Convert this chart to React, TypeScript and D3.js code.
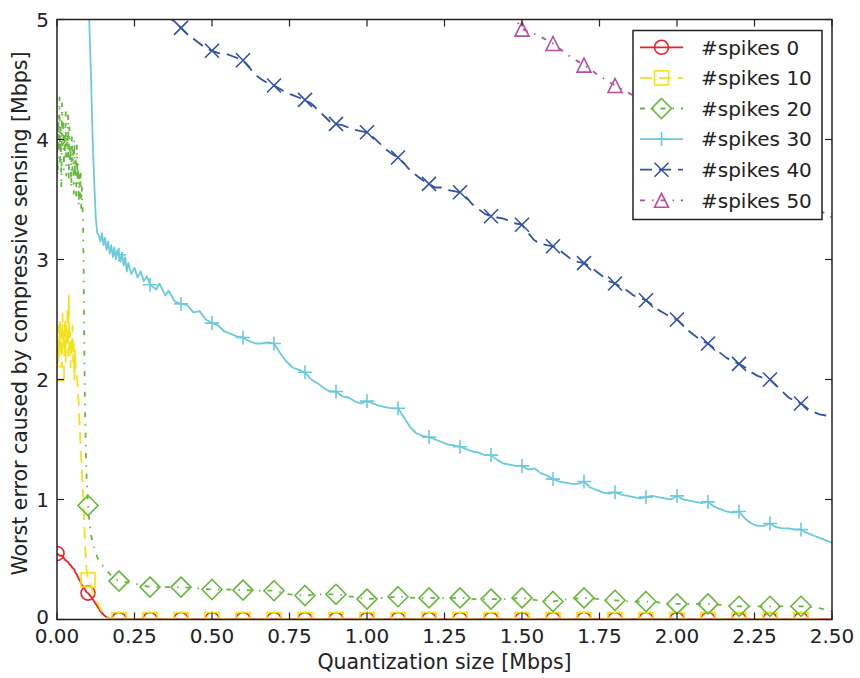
import React from "react";
import * as d3 from "d3";

// ---------- data ----------
const xTickValues = [0, 0.25, 0.5, 0.75, 1.0, 1.25, 1.5, 1.75, 2.0, 2.25, 2.5];
const yTickValues = [0, 1, 2, 3, 4, 5];
const seriesLabels = ["#spikes 0", "#spikes 10", "#spikes 20", "#spikes 30", "#spikes 40", "#spikes 50"];

const zeroTailX = [0.2, 0.3, 0.4, 0.5, 0.6, 0.7, 0.8, 0.9, 1.0, 1.1, 1.2, 1.3, 1.4, 1.5, 1.6, 1.7, 1.8, 1.9, 2.0, 2.1, 2.2, 2.3, 2.4, 2.5];

const spikes0X = [0, 0.005, 0.01, 0.015, 0.02, 0.025, 0.03, 0.035, 0.04, 0.045, 0.05, 0.055, 0.06, 0.065, 0.07, 0.075, 0.08, 0.085, 0.09, 0.095, 0.1, 0.11, 0.12, 0.13, 0.14, 0.15, 0.16, 0.17, 0.18, ...zeroTailX];
const spikes0Y = [0.55, 0.54, 0.53, 0.535, 0.52, 0.5, 0.49, 0.48, 0.46, 0.45, 0.43, 0.42, 0.39, 0.37, 0.34, 0.32, 0.29, 0.27, 0.25, 0.23, 0.22, 0.19, 0.15, 0.11, 0.07, 0.04, 0.02, 0.005, 0, ...zeroTailX.map(() => 0)];

const spikes10X = [0, 0.002, 0.004, 0.006, 0.008, 0.01, 0.012, 0.014, 0.016, 0.018, 0.02, 0.022, 0.024, 0.026, 0.028, 0.03, 0.032, 0.034, 0.036, 0.038, 0.04, 0.042, 0.044, 0.046, 0.048, 0.05, 0.052, 0.054, 0.056, 0.058, 0.06, 0.065, 0.07, 0.075, 0.08, 0.085, 0.09, 0.095, 0.1, 0.11, 0.12, 0.13, 0.14, 0.15, 0.16, 0.17, ...zeroTailX];
const spikes10Y = [2.05, 2.3, 2.15, 2.45, 2.2, 2.5, 2.25, 2.4, 2.1, 2.55, 2.3, 2.35, 2.2, 2.5, 2.15, 2.45, 2.3, 2.6, 2.2, 2.7, 2.25, 2.4, 2.1, 2.35, 2.2, 2.45, 2.15, 2.3, 2.0, 2.25, 2.1, 2.0, 1.8, 1.5, 1.25, 1.0, 0.65, 0.42, 0.33, 0.28, 0.2, 0.14, 0.09, 0.05, 0.02, 0, ...zeroTailX.map(() => 0)];

const spikes20X = [0, 0.002, 0.004, 0.006, 0.008, 0.01, 0.012, 0.014, 0.016, 0.018, 0.02, 0.022, 0.024, 0.026, 0.028, 0.03, 0.032, 0.034, 0.036, 0.038, 0.04, 0.042, 0.044, 0.046, 0.048, 0.05, 0.052, 0.054, 0.056, 0.058, 0.06, 0.062, 0.064, 0.066, 0.068, 0.07, 0.072, 0.074, 0.076, 0.078, 0.08, 0.082, 0.084, 0.086, 0.088, 0.09, 0.093, 0.096, 0.1, 0.105, 0.11, 0.12, 0.13, 0.14, 0.15, 0.16, 0.17, 0.18, 0.2, 0.25, 0.3, 0.35, 0.4, 0.45, 0.5, 0.55, 0.6, 0.65, 0.7, 0.75, 0.8, 0.85, 0.9, 0.95, 1.0, 1.05, 1.1, 1.15, 1.2, 1.25, 1.3, 1.35, 1.4, 1.45, 1.5, 1.55, 1.6, 1.65, 1.7, 1.75, 1.8, 1.85, 1.9, 1.95, 2.0, 2.05, 2.1, 2.15, 2.2, 2.25, 2.3, 2.35, 2.4, 2.45, 2.5];
const spikes20Y = [4.0, 3.7, 4.2, 3.9, 4.35, 3.8, 4.1, 3.6, 4.3, 3.95, 4.15, 3.75, 4.05, 3.85, 4.25, 3.7, 4.0, 3.9, 4.2, 3.65, 4.1, 3.8, 3.95, 3.6, 4.05, 3.75, 3.9, 3.55, 4.0, 3.7, 3.85, 3.5, 3.95, 3.65, 3.8, 3.45, 3.7, 3.5, 3.75, 3.4, 3.6, 3.45, 3.3, 2.9, 2.3, 1.8, 1.4, 1.15, 0.95, 0.8, 0.7, 0.6, 0.52, 0.47, 0.44, 0.41, 0.38, 0.35, 0.32, 0.3, 0.27, 0.27, 0.27, 0.26, 0.25, 0.25, 0.245, 0.24, 0.24, 0.21, 0.2, 0.21, 0.21, 0.19, 0.17, 0.18, 0.19, 0.18, 0.18, 0.18, 0.18, 0.17, 0.17, 0.17, 0.18, 0.16, 0.15, 0.17, 0.18, 0.17, 0.16, 0.15, 0.15, 0.14, 0.13, 0.13, 0.13, 0.12, 0.11, 0.11, 0.11, 0.11, 0.11, 0.1, 0.07];

const spikes30X = [0.1, 0.105, 0.11, 0.115, 0.12, 0.125, 0.13, 0.135, 0.14, 0.145, 0.15, 0.155, 0.16, 0.165, 0.17, 0.175, 0.18, 0.185, 0.19, 0.195, 0.2, 0.205, 0.21, 0.215, 0.22, 0.225, 0.23, 0.235, 0.24, 0.25, 0.26, 0.27, 0.28, 0.29, 0.3, 0.32, 0.33, 0.35, 0.36, 0.38, 0.4, 0.42, 0.44, 0.46, 0.48, 0.5, 0.52, 0.54, 0.56, 0.58, 0.6, 0.62, 0.64, 0.66, 0.68, 0.7, 0.72, 0.74, 0.76, 0.78, 0.8, 0.82, 0.84, 0.86, 0.88, 0.9, 0.92, 0.94, 0.96, 0.98, 1.0, 1.02, 1.04, 1.06, 1.08, 1.1, 1.12, 1.14, 1.16, 1.18, 1.2, 1.22, 1.24, 1.26, 1.28, 1.3, 1.32, 1.34, 1.36, 1.38, 1.4, 1.42, 1.44, 1.46, 1.48, 1.5, 1.52, 1.54, 1.56, 1.58, 1.6, 1.62, 1.64, 1.66, 1.68, 1.7, 1.72, 1.74, 1.76, 1.78, 1.8, 1.82, 1.84, 1.86, 1.88, 1.9, 1.92, 1.94, 1.96, 1.98, 2.0, 2.02, 2.04, 2.06, 2.08, 2.1, 2.12, 2.14, 2.16, 2.18, 2.2, 2.22, 2.24, 2.26, 2.28, 2.3, 2.32, 2.34, 2.36, 2.38, 2.4, 2.42, 2.44, 2.46, 2.48, 2.5];
const spikes30Y = [5.4, 4.9, 4.5, 4.0, 3.65, 3.35, 3.22, 3.2, 3.15, 3.22, 3.12, 3.18, 3.08, 3.15, 3.05, 3.12, 3.02, 3.1, 3.0, 3.08, 3.04, 2.98, 3.06, 2.95, 3.02, 2.9, 2.97, 2.92, 2.88, 2.93, 2.85, 2.9, 2.82, 2.86, 2.79, 2.75, 2.8, 2.7, 2.74, 2.65, 2.63, 2.62, 2.56, 2.57, 2.5, 2.47, 2.45, 2.4, 2.38, 2.36, 2.35, 2.32, 2.3, 2.3, 2.31, 2.3, 2.22, 2.15, 2.1, 2.08, 2.06, 2.0, 1.97, 1.93, 1.9, 1.9, 1.86, 1.85, 1.82, 1.8, 1.82, 1.8, 1.78, 1.77, 1.76, 1.76, 1.68, 1.6, 1.55, 1.53, 1.52, 1.5, 1.48, 1.46, 1.45, 1.44, 1.42, 1.4, 1.39, 1.37, 1.37, 1.33, 1.3, 1.29, 1.28, 1.28, 1.25, 1.26, 1.22, 1.2, 1.17, 1.15, 1.14, 1.13, 1.13, 1.15, 1.1, 1.08, 1.06, 1.05, 1.06, 1.04, 1.03, 1.02, 1.01, 1.02, 1.03, 1.02, 1.01, 1.0, 1.03, 1.0, 0.99, 0.98, 0.97, 0.98, 0.94, 0.92, 0.9, 0.89, 0.9, 0.84, 0.8, 0.78, 0.78, 0.8, 0.77, 0.76, 0.76, 0.75, 0.75, 0.72, 0.7, 0.68, 0.66, 0.64];

const spikes40X = [0.3, 0.36, 0.38, 0.4, 0.42, 0.44, 0.46, 0.48, 0.5, 0.52, 0.54, 0.56, 0.58, 0.6, 0.62, 0.64, 0.66, 0.68, 0.7, 0.72, 0.74, 0.76, 0.78, 0.8, 0.82, 0.84, 0.86, 0.88, 0.9, 0.92, 0.94, 0.96, 0.98, 1.0, 1.02, 1.04, 1.06, 1.08, 1.1, 1.12, 1.14, 1.16, 1.18, 1.2, 1.22, 1.24, 1.26, 1.28, 1.3, 1.32, 1.34, 1.36, 1.38, 1.4, 1.42, 1.44, 1.46, 1.48, 1.5, 1.52, 1.54, 1.56, 1.58, 1.6, 1.62, 1.64, 1.66, 1.68, 1.7, 1.72, 1.74, 1.76, 1.78, 1.8, 1.82, 1.84, 1.86, 1.88, 1.9, 1.92, 1.94, 1.96, 1.98, 2.0, 2.02, 2.04, 2.06, 2.08, 2.1, 2.12, 2.14, 2.16, 2.18, 2.2, 2.22, 2.24, 2.26, 2.28, 2.3, 2.32, 2.34, 2.36, 2.38, 2.4, 2.42, 2.44, 2.46, 2.48, 2.5];
const spikes40Y = [5.15, 5.02, 4.98, 4.93, 4.88, 4.84, 4.8, 4.76, 4.74, 4.72, 4.72, 4.7, 4.68, 4.66, 4.6, 4.54, 4.5, 4.47, 4.45, 4.42, 4.39, 4.37, 4.35, 4.33, 4.3, 4.25, 4.2, 4.15, 4.13, 4.12, 4.1, 4.08, 4.07, 4.06, 4.02, 3.97, 3.92, 3.88, 3.85, 3.8, 3.74, 3.7, 3.66, 3.63, 3.6, 3.6, 3.58, 3.57, 3.56, 3.52, 3.46, 3.42, 3.38, 3.36, 3.35, 3.34, 3.32, 3.3, 3.29, 3.22, 3.16, 3.13, 3.12, 3.11, 3.08, 3.04, 3.0, 2.98, 2.97, 2.94, 2.9, 2.86, 2.82, 2.8, 2.77, 2.74, 2.7, 2.68, 2.66, 2.62, 2.58, 2.55, 2.52, 2.5, 2.45, 2.4, 2.36, 2.32, 2.3, 2.26, 2.22, 2.18, 2.15, 2.13, 2.1, 2.06, 2.03, 2.01, 2.0, 1.95, 1.9, 1.85, 1.82, 1.8, 1.76, 1.73, 1.71, 1.7, 1.68];

const spikes50X = [1.4, 1.48, 1.5, 1.55, 1.6, 1.65, 1.7, 1.75, 1.8, 1.85, 1.9, 2.0, 2.1, 2.2, 2.3, 2.4, 2.5];
const spikes50Y = [5.12, 5.0, 4.92, 4.87, 4.8, 4.7, 4.62, 4.53, 4.45, 4.38, 4.3, 4.15, 4.0, 3.85, 3.68, 3.5, 3.35];

const seriesColors = ["#ec2027", "#f2e21a", "#68b840", "#6ccbdb", "#3353a6", "#b94ea1"];
const seriesDash = ["none", "12,7", "5,7,1.5,7", "none", "12,7", "5,7,1.5,7"];
const seriesMarker = ["circle", "square", "diamond", "plus", "x", "triangle"];

// ---------- layout ----------
const W = 860;
const H = 678;
const left = 57;
const right = 832;
const top = 19.5;
const bottom = 619.5;
const FONT = "DejaVu Sans, sans-serif";
const TEXT = "#222";

function Marker({ type, cx, cy, color }: { type: string; cx: number; cy: number; color: string }) {
  const sw = 1.6;
  const common = { fill: "none", stroke: color, strokeWidth: sw };
  if (type === "circle") return <circle cx={cx} cy={cy} r={7} {...common} />;
  if (type === "square") return <rect x={cx - 7} y={cy - 7} width={14} height={14} {...common} />;
  if (type === "diamond")
    return <path d={`M${cx},${cy - 10}L${cx + 10},${cy}L${cx},${cy + 10}L${cx - 10},${cy}Z`} {...common} />;
  if (type === "plus") return <path d={`M${cx - 7},${cy}H${cx + 7}M${cx},${cy - 7}V${cy + 7}`} {...common} />;
  if (type === "x")
    return <path d={`M${cx - 7},${cy - 7}L${cx + 7},${cy + 7}M${cx - 7},${cy + 7}L${cx + 7},${cy - 7}`} {...common} />;
  return <path d={`M${cx},${cy - 7}L${cx + 7},${cy + 7}L${cx - 7},${cy + 7}Z`} {...common} />;
}

export default function App() {
  const x = d3.scaleLinear().domain([0, 2.5]).range([left, right]);
  const y = d3.scaleLinear().domain([0, 5]).range([bottom, top]);

  const allX = [spikes0X, spikes10X, spikes20X, spikes30X, spikes40X, spikes50X];
  const allY = [spikes0Y, spikes10Y, spikes20Y, spikes30Y, spikes40Y, spikes50Y];

  const series = allX.map((xs, i) => xs.map((xv, j) => [xv, allY[i][j]] as [number, number]));

  const line = d3
    .line<[number, number]>()
    .x((d) => x(d[0]))
    .y((d) => y(d[1]));

  const isMarker = (v: number) => Math.abs(v * 10 - Math.round(v * 10)) < 1e-6 && v <= 2.4 + 1e-9;

  const tickLen = 7;
  const legendX = 633;
  const legendY = 30.5;
  const legendW = 189;
  const legendH = 189;
  const rowY = (i: number) => 47.3 + i * 30.6;

  return (
    <svg width={W} height={H} style={{ position: "absolute", left: 0, top: 0, background: "#fff" }}>
      <defs>
        <clipPath id="plotclip">
          <rect x={left} y={top} width={right - left} height={bottom - top} />
        </clipPath>
      </defs>
      <rect x={0} y={0} width={W} height={H} fill="#fff" />
      <g clipPath="url(#plotclip)">
        {series.map((pts, i) => (
          <g key={i}>
            <path
              d={line(pts) || ""}
              fill="none"
              stroke={seriesColors[i]}
              strokeWidth={1.8}
              strokeDasharray={seriesDash[i]}
              strokeLinejoin="round"
            />
            {pts
              .filter((p) => isMarker(p[0]))
              .map((p, k) => (
                <Marker key={k} type={seriesMarker[i]} cx={x(p[0])} cy={y(p[1])} color={seriesColors[i]} />
              ))}
          </g>
        ))}
      </g>

      {/* frame */}
      <rect x={left} y={top} width={right - left} height={bottom - top} fill="none" stroke="#222" strokeWidth={1.5} />
      {xTickValues.map((t) => (
        <g key={"xt" + t}>
          <line x1={x(t)} x2={x(t)} y1={bottom} y2={bottom - tickLen} stroke="#222" strokeWidth={1.2} />
          <line x1={x(t)} x2={x(t)} y1={top} y2={top + tickLen} stroke="#222" strokeWidth={1.2} />
          <text x={x(t)} y={643} textAnchor="middle" fontFamily={FONT} fontSize={20} fill={TEXT}>
            {d3.format(".2f")(t)}
          </text>
        </g>
      ))}
      {yTickValues.map((t) => (
        <g key={"yt" + t}>
          <line x1={left} x2={left + tickLen} y1={y(t)} y2={y(t)} stroke="#222" strokeWidth={1.2} />
          <line x1={right} x2={right - tickLen} y1={y(t)} y2={y(t)} stroke="#222" strokeWidth={1.2} />
          <text x={49} y={y(t)} dy={t === 0 ? "0.2em" : "0.36em"} textAnchor="end" fontFamily={FONT} fontSize={20} fill={TEXT}>
            {t}
          </text>
        </g>
      ))}

      <text x={(left + right) / 2} y={669} textAnchor="middle" fontFamily={FONT} fontSize={20.5} fill={TEXT}>
        Quantization size [Mbps]
      </text>
      <text
        transform={`translate(27,${(top + bottom) / 2 - 6}) rotate(-90)`}
        textAnchor="middle"
        fontFamily={FONT}
        fontSize={20.5}
        fill={TEXT}
      >
        Worst error caused by compressive sensing [Mbps]
      </text>

      {/* legend */}
      <g>
        <rect x={legendX} y={legendY} width={legendW} height={legendH} fill="#fff" stroke="#222" strokeWidth={1.5} />
        {seriesLabels.map((lab, i) => (
          <g key={lab}>
            <line
              x1={640}
              x2={683}
              y1={rowY(i)}
              y2={rowY(i)}
              stroke={seriesColors[i]}
              strokeWidth={1.8}
              strokeDasharray={seriesDash[i]}
            />
            <Marker type={seriesMarker[i]} cx={661.5} cy={rowY(i)} color={seriesColors[i]} />
            <text x={701} y={rowY(i)} dy="0.36em" fontFamily={FONT} fontSize={20} fill={TEXT}>
              {lab}
            </text>
          </g>
        ))}
      </g>
    </svg>
  );
}
